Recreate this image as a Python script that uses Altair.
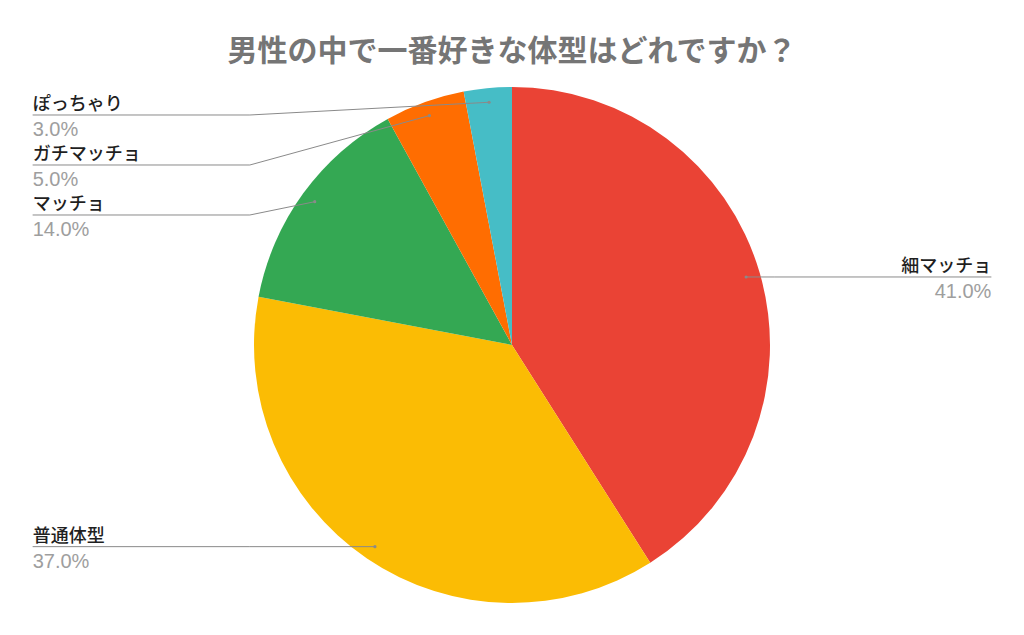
import altair as alt
import pandas as pd
import numpy as np

categories = ["細マッチョ", "普通体型", "マッチョ", "ガチマッチョ", "ぽっちゃり"]
values = [41.0, 37.0, 14.0, 5.0, 3.0]
colors = ["#EA4335", "#FBBC04", "#34A853", "#FF6D01", "#46BDC6"]
title_text = "男性の中で一番好きな体型はどれですか？"

# layout (pixels)
W, H, PAD_TOP = 1008, 559, 60
R = 258.0
CX, CY = 504.0, 277.0
DOT_R = 0.945      # leader dot radius (fraction of pie radius)
ELBOW = 1.016      # elbow x (fraction of radius)
LABEL_X = 1.858    # label line end x
GAP = 50.0 / R     # min vertical spacing between label rows
TOP = -0.8915      # top-most label row

xs = alt.Scale(domain=[-CX / R, (W - CX) / R], range=[0, W], nice=False, zero=False)
ys = alt.Scale(domain=[-CY / R, (H - CY) / R], range=[0, H], nice=False, zero=False)

df = pd.DataFrame({"name": categories, "val": values, "ord": list(range(len(values)))})
total = sum(values)
cum = np.concatenate([[0.0], np.cumsum(values)[:-1]])
mid = (cum + np.array(values) / 2) / total * 2 * np.pi
df["dx"] = DOT_R * np.sin(mid)
df["dy"] = -DOT_R * np.cos(mid)
df["side"] = np.where(df["dx"] >= 0, "right", "left")
df["pct"] = [f"{v:.1f}%" for v in values]
df["cx"] = 0.0
df["cy"] = 0.0

# label rows with collision avoidance per side
ly = {}
for side in ["left", "right"]:
    sub = df[df["side"] == side].sort_values("dy")
    prev = None
    for _, r in sub.iterrows():
        y = max(r["dy"], TOP)
        if prev is not None:
            y = max(y, prev + GAP)
        ly[r["name"]] = y
        prev = y
df["ly"] = df["name"].map(ly)
df["lx"] = np.where(df["side"] == "right", LABEL_X, -LABEL_X)

rows = []
for _, r in df.iterrows():
    sgn = 1 if r["side"] == "right" else -1
    rows.append({"name": r["name"], "k": 0, "x": r["dx"], "y": r["dy"]})
    rows.append({"name": r["name"], "k": 1, "x": sgn * ELBOW, "y": r["ly"]})
    rows.append({"name": r["name"], "k": 2, "x": r["lx"], "y": r["ly"]})
lines = pd.DataFrame(rows)

pie = alt.Chart(df).mark_arc(radius=R).encode(
    theta=alt.Theta("val:Q", stack=True),
    color=alt.Color("name:N", scale=alt.Scale(domain=categories, range=colors), legend=None),
    order=alt.Order("ord:Q"),
    x=alt.X("cx:Q", scale=xs, axis=None),
    y=alt.Y("cy:Q", scale=ys, axis=None),
)

leader = alt.Chart(lines).mark_line(color="#8a8a8a", strokeWidth=1).encode(
    x=alt.X("x:Q", scale=xs, axis=None),
    y=alt.Y("y:Q", scale=ys, axis=None),
    detail="name:N",
    order="k:Q",
)

dots = alt.Chart(df).mark_circle(color="#8a8a8a", size=10, opacity=1).encode(
    x=alt.X("dx:Q", scale=xs, axis=None),
    y=alt.Y("dy:Q", scale=ys, axis=None),
)

def labels(side, align):
    base = alt.Chart(df).transform_filter(alt.datum.side == side)
    name = base.mark_text(align=align, baseline="alphabetic", dy=-5, fontSize=18,
                          font="Noto Sans CJK JP", fontWeight=500, color="#1f1f1f").encode(
        x=alt.X("lx:Q", scale=xs, axis=None),
        y=alt.Y("ly:Q", scale=ys, axis=None),
        text="name:N",
    )
    pct = base.mark_text(align=align, baseline="top", dy=5, fontSize=20,
                         font="Liberation Sans", color="#9e9e9e").encode(
        x=alt.X("lx:Q", scale=xs, axis=None),
        y=alt.Y("ly:Q", scale=ys, axis=None),
        text="pct:N",
    )
    return name + pct

chart = alt.layer(pie, leader, dots, labels("left", "left"), labels("right", "right")).properties(
    width=W,
    height=H,
    padding={"left": 0, "right": 0, "top": PAD_TOP, "bottom": 0},
    autosize=alt.AutoSizeParams(type="none"),
    background="white",
    title=alt.Title(title_text, fontSize=30, font="Noto Sans CJK JP", fontWeight="bold",
                    color="#757575", anchor="middle", offset=1),
).configure_view(stroke=None)

chart.save("out.html", embed_options={"renderer": "svg", "actions": False})
